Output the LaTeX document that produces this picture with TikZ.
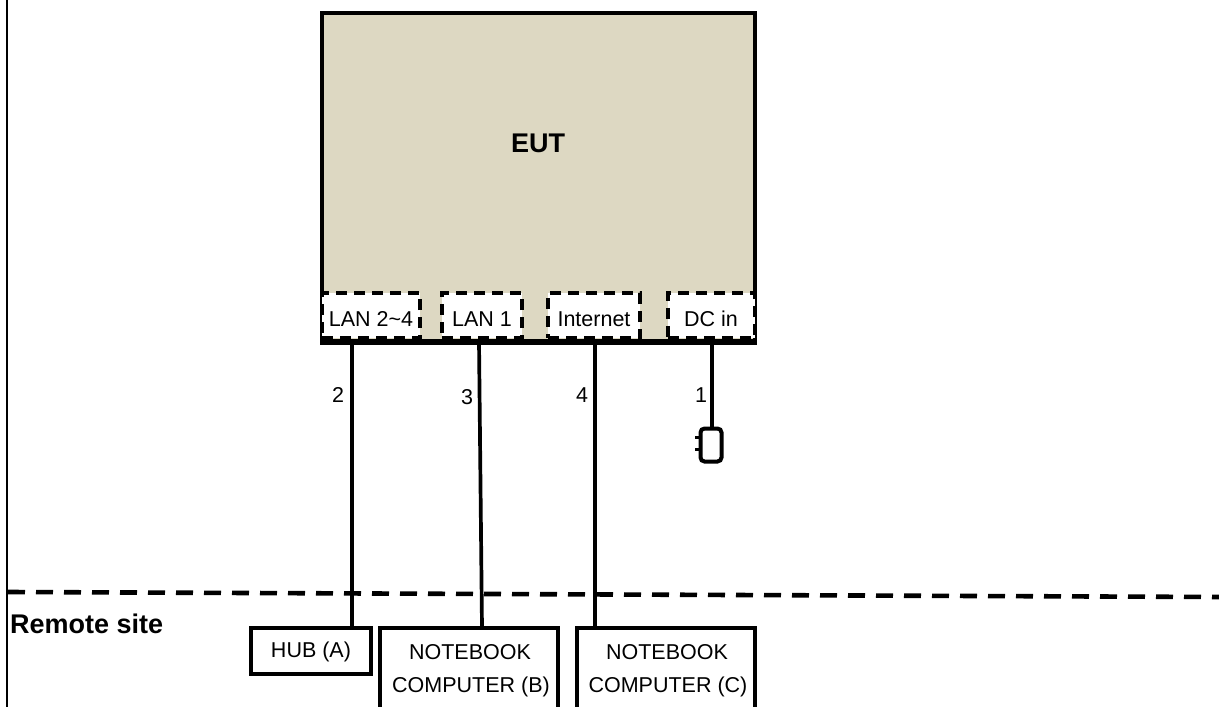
\documentclass[tikz,border=0pt]{standalone}
\usepackage{fontspec}
\setmainfont{Liberation Sans}
\definecolor{euttan}{HTML}{DDD8C2}
\tikzset{
  wire/.style={line width=3.7pt,draw=black},
  eutbox/.style={draw=black,fill=euttan,line width=4pt,inner sep=0pt,minimum width=433pt,minimum height=328pt},
  portbox/.style={draw=black,fill=white,line width=3.6pt,dash pattern=on 11pt off 7pt,inner sep=0pt,font=\fontsize{21.5}{24}\selectfont},
  sitebox/.style={draw=black,fill=white,line width=4.4pt,inner sep=0pt,font=\fontsize{21.5}{24}\selectfont},
  lbl/.style={inner sep=0pt,font=\fontsize{21.5}{24}\selectfont},
  boldlbl/.style={inner sep=0pt,font=\fontsize{27}{30}\selectfont\bfseries},
}
\begin{document}
\begin{tikzpicture}[x=1pt,y=-1pt]
\useasboundingbox (0,0) rectangle (1219,707);
\fill[white] (0,0) rectangle (1219,707);
% frame edge and site boundary
\coordinate (edgeT) at (6.5,0);
\coordinate (edgeB) at (6.5,707);
\draw[line width=2pt] (edgeT) -- (edgeB);
\coordinate (siteL) at (8,592);
\coordinate (siteR) at (1219,597);
\draw[line width=4.6pt,dash pattern=on 17pt off 11pt] (siteL) -- (siteR);
% EUT
\node[eutbox] (eut) at (538.5,177) {};
\node[boldlbl] (eutlabel) at (538,143) {EUT};
\node[portbox,minimum width=98pt,minimum height=45pt] (lanb) at (371,315.5) {};
\node[portbox,minimum width=80pt,minimum height=45pt] (lana) at (482,315.5) {};
\node[portbox,minimum width=92pt,minimum height=45pt] (inet) at (594,315.5) {};
\node[portbox,minimum width=87pt,minimum height=45pt] (dcin) at (711.5,315.5) {};
\node[lbl] (lanbt) at (371,319) {LAN 2\textasciitilde 4};
\node[lbl] (lanat) at (482,319) {LAN 1};
\node[lbl] (inett) at (594,319) {Internet};
\node[lbl] (dcint) at (711,319) {DC in};
\draw[line width=3pt] (eut.south west) -- (eut.south east);
% remote devices
\node[sitebox,minimum width=120pt,minimum height=46pt] (hub) at (311,651) {};
\node[lbl] (hubt) at (311,652) {HUB (A)};
\node[sitebox,minimum width=178pt,minimum height=100pt] (nbb) at (469,678) {};
\node[lbl] (nbbt1) at (470,652) {NOTEBOOK};
\node[lbl] (nbbt2) at (471,687) {COMPUTER (B)};
\node[sitebox,minimum width=178pt,minimum height=100pt] (nbc) at (666,678) {};
\node[lbl] (nbct1) at (667,652) {NOTEBOOK};
\node[lbl] (nbct2) at (668,687) {COMPUTER (C)};
% plug
\node[draw=black,fill=white,line width=4pt,rounded corners=4pt,inner sep=0pt,minimum width=21pt,minimum height=33pt] (plug) at (711,445) {};
\coordinate (prongA) at (695,437);
\coordinate (prongB) at (695,449);
\draw[line width=3pt] (prongA) -- (prongA -| plug.west);
\draw[line width=3pt] (prongB) -- (prongB -| plug.west);
% connectors
\coordinate (p2) at (352,341);
\coordinate (p3) at (479,341);
\coordinate (p3b) at (482,628);
\coordinate (p4) at (595,341);
\coordinate (p1) at (712,341);
\draw[wire] (p2) -- (p2 |- hub.north);
\draw[wire] (p3) -- (p3b);
\draw[wire] (p4) -- (p4 |- nbc.north);
\draw[wire] (p1) -- (p1 |- plug.north);
\node[lbl] (n2) at (338,395) {2};
\node[lbl] (n3) at (467,397) {3};
\node[lbl] (n4) at (582,395) {4};
\node[lbl] (n1) at (701,395) {1};
\node[boldlbl,anchor=west] (remote) at (10,624) {Remote site};
\end{tikzpicture}
\end{document}
